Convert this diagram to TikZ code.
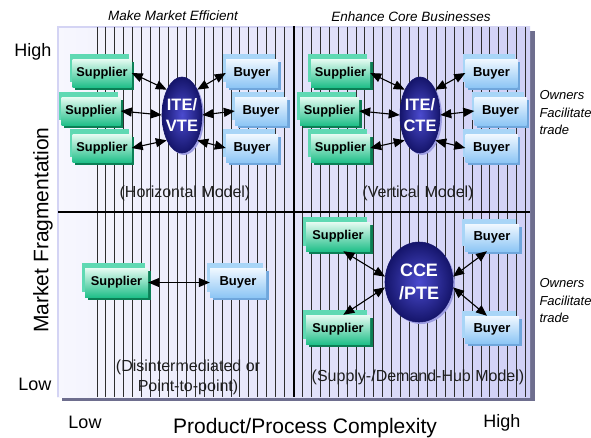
\documentclass[tikz,border=0pt]{standalone}
\usepackage{fontspec}
\setmainfont{Liberation Sans}
\usetikzlibrary{shapes.geometric,arrows.meta,shadows}

\definecolor{bgL}{HTML}{F7F7FE}
\definecolor{bgR}{HTML}{D0D0F6}
\definecolor{frameC}{HTML}{D4D4F4}
\definecolor{shadowC}{HTML}{6E6E8E}
\definecolor{gridC}{HTML}{2E2E2E}
\definecolor{supTop}{HTML}{E6FBF2}
\definecolor{supBot}{HTML}{22C08A}
\definecolor{supBack}{HTML}{5FD9B3}
\definecolor{supShade}{HTML}{0B7F55}
\definecolor{buyTop}{HTML}{F0F8FF}
\definecolor{buyBot}{HTML}{8EC6F5}
\definecolor{buyBack}{HTML}{A8D5F7}
\definecolor{buyShade}{HTML}{6FA6DC}
\definecolor{hubIn}{HTML}{4B4BCF}
\definecolor{hubOut}{HTML}{15156B}
\definecolor{hubGlow}{HTML}{9E9EE2}
\definecolor{labelC}{HTML}{1E1E1E}

\begin{document}
\begin{tikzpicture}[x=1pt,y=-1pt,
  box/.style={minimum height=28pt, inner sep=0pt,
    font=\fontsize{12.8}{15}\selectfont\bfseries},
  supplier/.style={box, minimum width=59pt, top color=supTop, bottom color=supBot,
    general shadow={shadow xshift=-3pt, shadow yshift=5pt, fill=supBack},
    general shadow={shadow xshift=2.5pt, shadow yshift=-2.5pt, fill=supShade}},
  buyer/.style={box, minimum width=52pt, top color=buyTop, bottom color=buyBot,
    font=\fontsize{13}{15}\selectfont\bfseries,
    general shadow={shadow xshift=-3pt, shadow yshift=5pt, fill=buyBack},
    general shadow={shadow xshift=2.5pt, shadow yshift=-2.5pt, fill=buyShade}},
  hub/.style={ellipse, inner xsep=-5pt, inner ysep=0pt, text=white, align=center,
    minimum width=40pt, minimum height=76pt,
    font=\fontsize{16.5}{21}\selectfont\bfseries,
    inner color=hubIn, outer color=hubOut, draw=hubOut, line width=0.6pt,
    general shadow={shadow xshift=2pt, shadow yshift=-2pt, fill=hubGlow}},
  link/.style={{Triangle[length=11pt,width=9pt]}-{Triangle[length=11pt,width=9pt]},
    line width=1.1pt, black},
  gridline/.style={draw=gridC, line width=0.9pt},
  quadlabel/.style={text=labelC, align=center, font=\fontsize{16}{20}\selectfont},
  goal/.style={font=\fontsize{13.5}{16}\selectfont\itshape},
  owners/.style={align=left, anchor=west, font=\fontsize{13}{17.5}\selectfont\itshape},
  axislabel/.style={font=\fontsize{21}{24}\selectfont},
  axisend/.style={font=\fontsize{18}{20}\selectfont}
]
\useasboundingbox (0,0) rectangle (591,437);

% panel with its shadow
\fill[shadowC] (62,397) rectangle (535,401);
\fill[shadowC] (530,31) rectangle (535,401);
\shade[left color=bgL, right color=bgR] (57,26) rectangle (530,397);
\draw[frameC, line width=2pt] (58,397) -- (58,27) -- (530,27);

% vertical hatching
\foreach \k in {0,...,48}
  \draw[gridline] (97+\k*8.93,27) -- (97+\k*8.93,397);

% quadrant dividers
\draw[black, line width=2.2pt] (294,26) -- (294,397);
\draw[black, line width=1.6pt] (58,212) -- (530,212);

% column headings
\node[goal] (goalL) at (173,16) {Make Market Efficient};
\node[goal] (goalR) at (411,17) {Enhance Core Businesses};

% axes
\node[axisend, anchor=east] (yhigh) at (55,52) {High};
\node[axisend, anchor=east] (ylow) at (55,384) {Low};
\node[axislabel, rotate=90] (ytitle) at (43,230) {Market Fragmentation};
\node[axisend, anchor=base] (xlow) at (85,428) {Low};
\node[axisend, anchor=base] (xhigh) at (502,427) {High};
\node[axislabel, anchor=base] (xtitle) at (305,433) {Product/Process Complexity};

% horizontal model
\node[supplier] (hs1) at (102,73) {Supplier};
\node[supplier] (hs2) at (91,111) {Supplier};
\node[supplier] (hs3) at (102,148) {Supplier};
\node[buyer] (hb1) at (252,73) {Buyer};
\node[buyer] (hb2) at (261,111) {Buyer};
\node[buyer] (hb3) at (252,148) {Buyer};
\node[hub] (hh) at (182,115) {ITE/\\VTE};
\draw[link] (hs1.east) -- (hh.121);
\draw[link] (hs2.east) -- (hh.180);
\draw[link] (hs3.east) -- (hh.239);
\draw[link] (hb1.west) -- (hh.59);
\draw[link] (hb2.west) -- (hh.0);
\draw[link] (hb3.west) -- (hh.301);
\node[quadlabel] (qhor) at (185,193) {(Horizontal Model)};

% vertical model
\node[supplier] (vs1) at (340.5,73) {Supplier};
\node[supplier] (vs2) at (329.5,111) {Supplier};
\node[supplier] (vs3) at (340.5,148) {Supplier};
\node[buyer] (vb1) at (491.5,73) {Buyer};
\node[buyer] (vb2) at (500.5,111) {Buyer};
\node[buyer] (vb3) at (491.5,148) {Buyer};
\node[hub] (vh) at (420,115) {ITE/\\CTE};
\draw[link] (vs1.east) -- (vh.121);
\draw[link] (vs2.east) -- (vh.180);
\draw[link] (vs3.east) -- (vh.239);
\draw[link] (vb1.west) -- (vh.59);
\draw[link] (vb2.west) -- (vh.0);
\draw[link] (vb3.west) -- (vh.301);
\node[quadlabel] (qver) at (418,193) {(Vertical Model)};
\node[owners] (ownTop) at (536,113) {Owners\\Facilitate\\trade};

% point-to-point
\node[supplier, minimum width=63pt, minimum height=29pt] (ps) at (116.5,282.5) {Supplier};
\node[buyer, minimum width=56pt, minimum height=29pt] (pb) at (238,282.5) {Buyer};
\draw[link] (ps.east) -- (pb.west);
\node[quadlabel] (qp2p) at (188,377) {(Disintermediated or\\Point-to-point)};

% hub model
\node[supplier, minimum width=64pt, minimum height=29pt] (us1) at (338,236.5) {Supplier};
\node[supplier, minimum width=64pt, minimum height=29pt] (us2) at (338,329.5) {Supplier};
\node[buyer, minimum width=54pt, minimum height=27pt] (ub1) at (492,237.5) {Buyer};
\node[buyer, minimum width=54pt, minimum height=27pt] (ub2) at (492,329.5) {Buyer};
\node[hub, minimum width=68pt, minimum height=80pt,
  font=\fontsize{18}{23}\selectfont\bfseries] (uh) at (419,282) {CCE\\/PTE};
\draw[link] (us1.290) -- (uh.171);
\draw[link] (us2.70) -- (uh.189);
\draw[link] (ub1.250) -- (uh.9);
\draw[link] (ub2.110) -- (uh.351);
\node[quadlabel] (qhub) at (418,377) {(Supply-/Demand-Hub Model)};
\node[owners] (ownBot) at (536,301) {Owners\\Facilitate\\trade};
\end{tikzpicture}
\end{document}
